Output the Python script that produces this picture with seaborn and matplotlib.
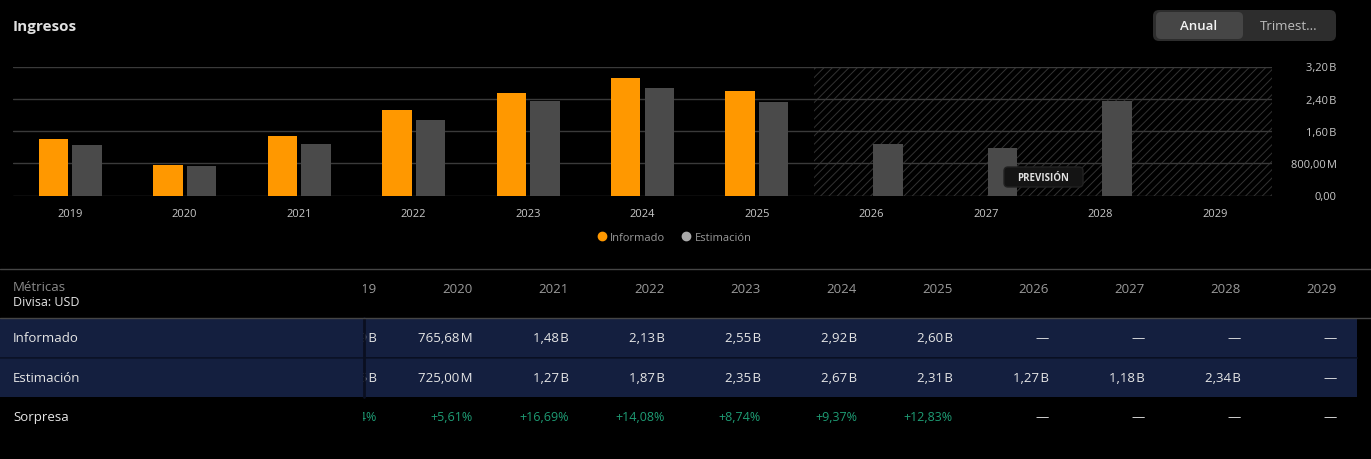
import numpy as np
import pandas as pd
import matplotlib
matplotlib.use("Agg")
import matplotlib.pyplot as plt
import seaborn as sns
from matplotlib.patches import Rectangle, FancyBboxPatch
from matplotlib.lines import Line2D

# ---------------- data ----------------
years = ["2019", "2020", "2021", "2022", "2023", "2024", "2025", "2026", "2027", "2028", "2029"]
informado = [1.39, 0.76568, 1.48, 2.13, 2.55, 2.92, 2.60, np.nan, np.nan, np.nan, np.nan]   # billions USD
estimacion = [1.25, 0.725, 1.27, 1.87, 2.35, 2.67, 2.31, 1.27, 1.18, 2.34, np.nan]
y_ticks = [0, 0.8, 1.6, 2.4, 3.2]
forecast_start = "2026"

row_informado = ["1,39\u200aB", "765,68\u200aM", "1,48\u200aB", "2,13\u200aB", "2,55\u200aB", "2,92\u200aB",
                 "2,60\u200aB", "—", "—", "—", "—"]
row_estimacion = ["1,25\u200aB", "725,00\u200aM", "1,27\u200aB", "1,87\u200aB", "2,35\u200aB", "2,67\u200aB",
                  "2,31\u200aB", "1,27\u200aB", "1,18\u200aB", "2,34\u200aB", "—"]
row_sorpresa = ["+11,24%", "+5,61%", "+16,69%", "+14,08%", "+8,74%", "+9,37%", "+12,83%", "—", "—", "—", "—"]

ORANGE = "#ff9800"
GREY = "#4a4a4a"
NAVY = "#141f3f"
GREEN = "#1e9c74"

sns.set_theme(style="dark")
plt.rcParams["font.family"] = ["Open Sans", "DejaVu Sans"]
plt.rcParams["hatch.linewidth"] = 0.7

W, H = 1371, 460
fig = plt.figure(figsize=(W / 100, H / 100), dpi=100, facecolor="black")

# ---------------- chart ----------------
ax = fig.add_axes([13 / W, 1 - 196.5 / H, (1272 - 13) / W, (196.5 - 67.5) / H])
ax.set_facecolor("black")
ax.set_zorder(1)

df = pd.DataFrame({
    "year": years * 2,
    "value": informado + estimacion,
    "serie": ["Informado"] * len(years) + ["Estimación"] * len(years),
}).dropna()

sns.barplot(data=df, x="year", y="value", hue="serie", order=years,
            hue_order=["Informado", "Estimación"], palette=[ORANGE, GREY],
            width=0.585, gap=0.12, saturation=1, legend=False, ax=ax, zorder=3,
            linewidth=0, edgecolor="none")

fi = years.index(forecast_start)
ax.axvspan(fi - 0.5, len(years) - 0.5, facecolor="none", edgecolor="#333333",
           hatch="////", linewidth=0, zorder=0)

ax.set_xlim(-0.5, len(years) - 0.5)
ax.set_ylim(0, 3.2)
ax.set_yticks(y_ticks)


def fmt(v):
    if v == 0:
        return "0,00"
    if v < 1:
        return f"{v * 1000:.2f}".replace(".", ",") + "\u200aM"
    return f"{v:.2f}".replace(".", ",") + "\u200aB"


ax.set_yticklabels([fmt(v) for v in y_ticks])
ax.yaxis.tick_right()
for lab in ax.get_yticklabels():
    lab.set_ha("right")
ax.tick_params(axis="y", length=0, pad=46.5, labelsize=8, labelcolor="#c8c8c8")
ax.tick_params(axis="x", length=0, pad=9, labelsize=8, labelcolor="#c8c8c8")
ax.set_xlabel("")
ax.set_ylabel("")
ax.grid(axis="y", color="#3a3a3a", linewidth=1, zorder=1)
ax.grid(axis="x", visible=False)
ax.set_axisbelow(True)
for s in ax.spines.values():
    s.set_visible(False)

# legend
handles = [Line2D([], [], marker="o", linestyle="", markersize=6, color=ORANGE, label="Informado"),
           Line2D([], [], marker="o", linestyle="", markersize=6, color="#aaaaaa", label="Estimación")]
fig.legend(handles=handles, loc="center", bbox_to_anchor=(674 / W, 1 - 238.5 / H), ncol=2,
           frameon=False, fontsize=8, labelcolor="#9a9a9a", handletextpad=0.25,
           columnspacing=1.4, handlelength=1.0)

# ---------------- overlay (pixel coordinates) ----------------
ov = fig.add_axes([0, 0, 1, 1])
ov.set_xlim(0, W)
ov.set_ylim(H, 0)
ov.axis("off")
ov.patch.set_alpha(0)
ov.set_zorder(5)

# title
ov.text(13, 26.5, "Ingresos", fontsize=11, fontweight="bold", color="#e0e0e0", va="center", ha="left")

# toggle
ov.add_patch(FancyBboxPatch((1153, 11), 183, 31, boxstyle="round,pad=0,rounding_size=6",
                            facecolor="#2d2d2d", edgecolor="none"))
ov.add_patch(FancyBboxPatch((1156, 13), 87, 27, boxstyle="round,pad=0,rounding_size=5",
                            facecolor="#464646", edgecolor="none"))
ov.text(1199, 27, "Anual", fontsize=9.5, color="#f4f4f4", ha="center", va="center", fontweight="semibold")
ov.text(1289, 27, "Trimest...", fontsize=9.5, color="#bdbdbd", ha="center", va="center")

# PREVISIÓN badge
ov.add_patch(FancyBboxPatch((1004, 168), 79, 20, boxstyle="round,pad=0,rounding_size=4",
                            facecolor="#141414", edgecolor="#222222", linewidth=1))
ov.text(1043.5, 179, "PREVISIÓN", fontsize=7, fontweight="bold", color="#e0e0e0",
        ha="center", va="center")

# table
ov.add_patch(Rectangle((0, 319), W - 14, 39, facecolor=NAVY, edgecolor="none"))
ov.add_patch(Rectangle((0, 359), W - 14, 39, facecolor=NAVY, edgecolor="none"))
ov.plot([0, W - 14], [358.5, 358.5], color="#0c1329", linewidth=1.2)

col_right = [377 + 96 * i for i in range(len(years))]
row_y = [338.5, 378.5, 417.5]

for i, yr in enumerate(years):
    ov.text(col_right[i], 289.5, yr, fontsize=9.5, color="#9a9a9a", ha="right", va="center", zorder=2)
    ov.text(col_right[i], row_y[0], row_informado[i], fontsize=9.5, color="#e6e6e6",
            ha="right", va="center", zorder=2)
    ov.text(col_right[i], row_y[1], row_estimacion[i], fontsize=9.5, color="#e6e6e6",
            ha="right", va="center", zorder=2)
    s = row_sorpresa[i]
    ov.text(col_right[i], row_y[2], s, fontsize=9 if s != "—" else 9.5,
            color=GREEN if s != "—" else "#e6e6e6", ha="right", va="center", zorder=2)

# sticky first column covering the 2019 column
ov.add_patch(Rectangle((0, 270), 363, 48, facecolor="black", edgecolor="none", zorder=3))
ov.add_patch(Rectangle((0, 319), 363, 39, facecolor=NAVY, edgecolor="none", zorder=3))
ov.add_patch(Rectangle((0, 359), 363, 39, facecolor=NAVY, edgecolor="none", zorder=3))
ov.add_patch(Rectangle((0, 399), 363, 40, facecolor="black", edgecolor="none", zorder=3))
ov.plot([0, 363], [358.5, 358.5], color="#0c1329", linewidth=1.2, zorder=3.5)
ov.plot([363.5, 363.5], [319, 398], color="#0a0f20", linewidth=2, zorder=3.5)

ov.plot([0, W], [269.5, 269.5], color="#454545", linewidth=1, zorder=4)
ov.plot([0, W], [318.5, 318.5], color="#454545", linewidth=1, zorder=4)

ov.text(13, 287.5, "Métricas", fontsize=9.5, color="#8a8a8a", ha="left", va="center", zorder=4)
ov.text(13, 302.5, "Divisa: USD", fontsize=9, color="#e6e6e6", ha="left", va="center", zorder=4)
ov.text(13, row_y[0], "Informado", fontsize=9.5, color="#e6e6e6", ha="left", va="center", zorder=4)
ov.text(13, row_y[1], "Estimación", fontsize=9.5, color="#e6e6e6", ha="left", va="center", zorder=4)
ov.text(13, row_y[2], "Sorpresa", fontsize=9.5, color="#e6e6e6", ha="left", va="center", zorder=4)

fig.savefig("out.png", dpi=100, facecolor="black")
